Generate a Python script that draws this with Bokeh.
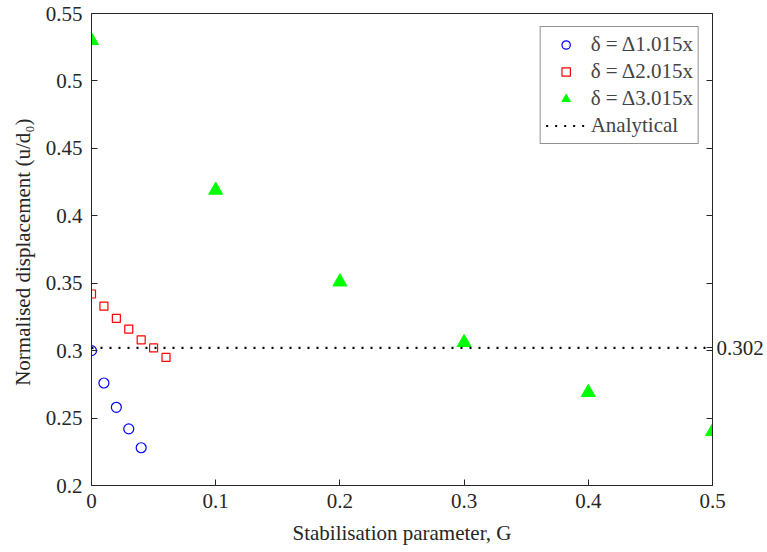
from bokeh.plotting import figure
from bokeh.models import (Range1d, FixedTicker, LinearAxis, CustomJSTickFormatter,
                          Legend, LegendItem)
from bokeh.embed import file_html
from bokeh.resources import INLINE

# ---- data ----
G1 = [0.0, 0.01, 0.02, 0.03, 0.04]
u1 = [0.300, 0.276, 0.258, 0.242, 0.228]
G2 = [0.0, 0.01, 0.02, 0.03, 0.04, 0.05, 0.06]
u2 = [0.342, 0.333, 0.324, 0.316, 0.308, 0.302, 0.295]
G3 = [0.0, 0.1, 0.2, 0.3, 0.4, 0.5]
u3 = [0.530, 0.419, 0.351, 0.306, 0.269, 0.240]
analytical = 0.302
labels = ["δ = Δ1.015x", "δ = Δ2.015x", "δ = Δ3.015x", "Analytical"]
x_ticks = [0.0, 0.1, 0.2, 0.3, 0.4, 0.5]
y_ticks = [0.2, 0.25, 0.3, 0.35, 0.4, 0.45, 0.5, 0.55]

FONT = "Liberation Serif"
AX = "#262626"

p = figure(width=767, height=552, output_backend="svg", toolbar_location=None,
           x_range=Range1d(0, 0.5), y_range=Range1d(0.2, 0.55),
           min_border_left=91, min_border_top=13, min_border_bottom=67,
           min_border_right=55)
p.grid.visible = False
p.outline_line_color = AX
p.outline_line_width = 1

fmt = CustomJSTickFormatter(code="return String(Number(tick.toFixed(4)));")

for ax, ticks in ((p.xaxis[0], x_ticks), (p.yaxis[0], y_ticks)):
    ax.ticker = FixedTicker(ticks=ticks)
    ax.formatter = fmt
    ax.major_tick_in = 6
    ax.major_tick_out = 0
    ax.minor_tick_line_color = None
    ax.axis_line_color = AX
    ax.major_tick_line_color = AX
    ax.major_label_text_color = AX
    ax.major_label_text_font = FONT
    ax.major_label_text_font_size = "21px"
    ax.axis_label_text_font = FONT
    ax.axis_label_text_font_size = "21px"
    ax.axis_label_text_font_style = "normal"
    ax.axis_label_text_color = AX

p.xaxis[0].axis_label = "Stabilisation parameter, G"
p.xaxis[0].major_label_standoff = 8
p.xaxis[0].axis_label_standoff = 10
p.yaxis[0].axis_label = "Normalised displacement  (u/d₀)"
p.yaxis[0].major_label_standoff = 9
p.yaxis[0].axis_label_standoff = 8

# right axis: analytical value label + box ticks
right = LinearAxis(ticker=FixedTicker(ticks=[analytical], minor_ticks=y_ticks),
                   formatter=fmt)
right.major_tick_in = 6
right.major_tick_out = 0
right.minor_tick_in = 6
right.minor_tick_out = 0
right.axis_line_color = AX
right.major_tick_line_color = AX
right.minor_tick_line_color = AX
right.major_label_text_color = AX
right.major_label_text_font = FONT
right.major_label_text_font_size = "21px"
right.major_label_standoff = 4
p.add_layout(right, "right")

r1 = p.scatter(G1, u1, marker="circle", size=10, fill_color=None,
               line_color="#0000ff", line_width=1.2)
r2 = p.scatter(G2, u2, marker="square", size=8, fill_color=None,
               line_color="#ff0000", line_width=1.2)
r3 = p.scatter(G3, u3, marker="triangle", size=14, fill_color="#00ff00",
               line_color="#00ff00", line_width=1)
r4 = p.line([x_ticks[0], x_ticks[-1]], [analytical, analytical],
            line_color="black", line_width=2.2, line_dash="2 7")

legend = Legend(items=[LegendItem(label=labels[0], renderers=[r1]),
                       LegendItem(label=labels[1], renderers=[r2]),
                       LegendItem(label=labels[2], renderers=[r3]),
                       LegendItem(label=labels[3], renderers=[r4])],
                location="top_right")
legend.margin = 13
legend.padding = 5
legend.spacing = 2
legend.label_standoff = 5
legend.label_text_font = FONT
legend.label_text_font_size = "21px"
legend.label_height = 21
legend.glyph_height = 21
legend.glyph_width = 40
legend.border_line_color = AX
legend.border_line_width = 1
legend.background_fill_alpha = 1
p.add_layout(legend, "center")

open("out.html", "w").write(file_html(p, INLINE))
